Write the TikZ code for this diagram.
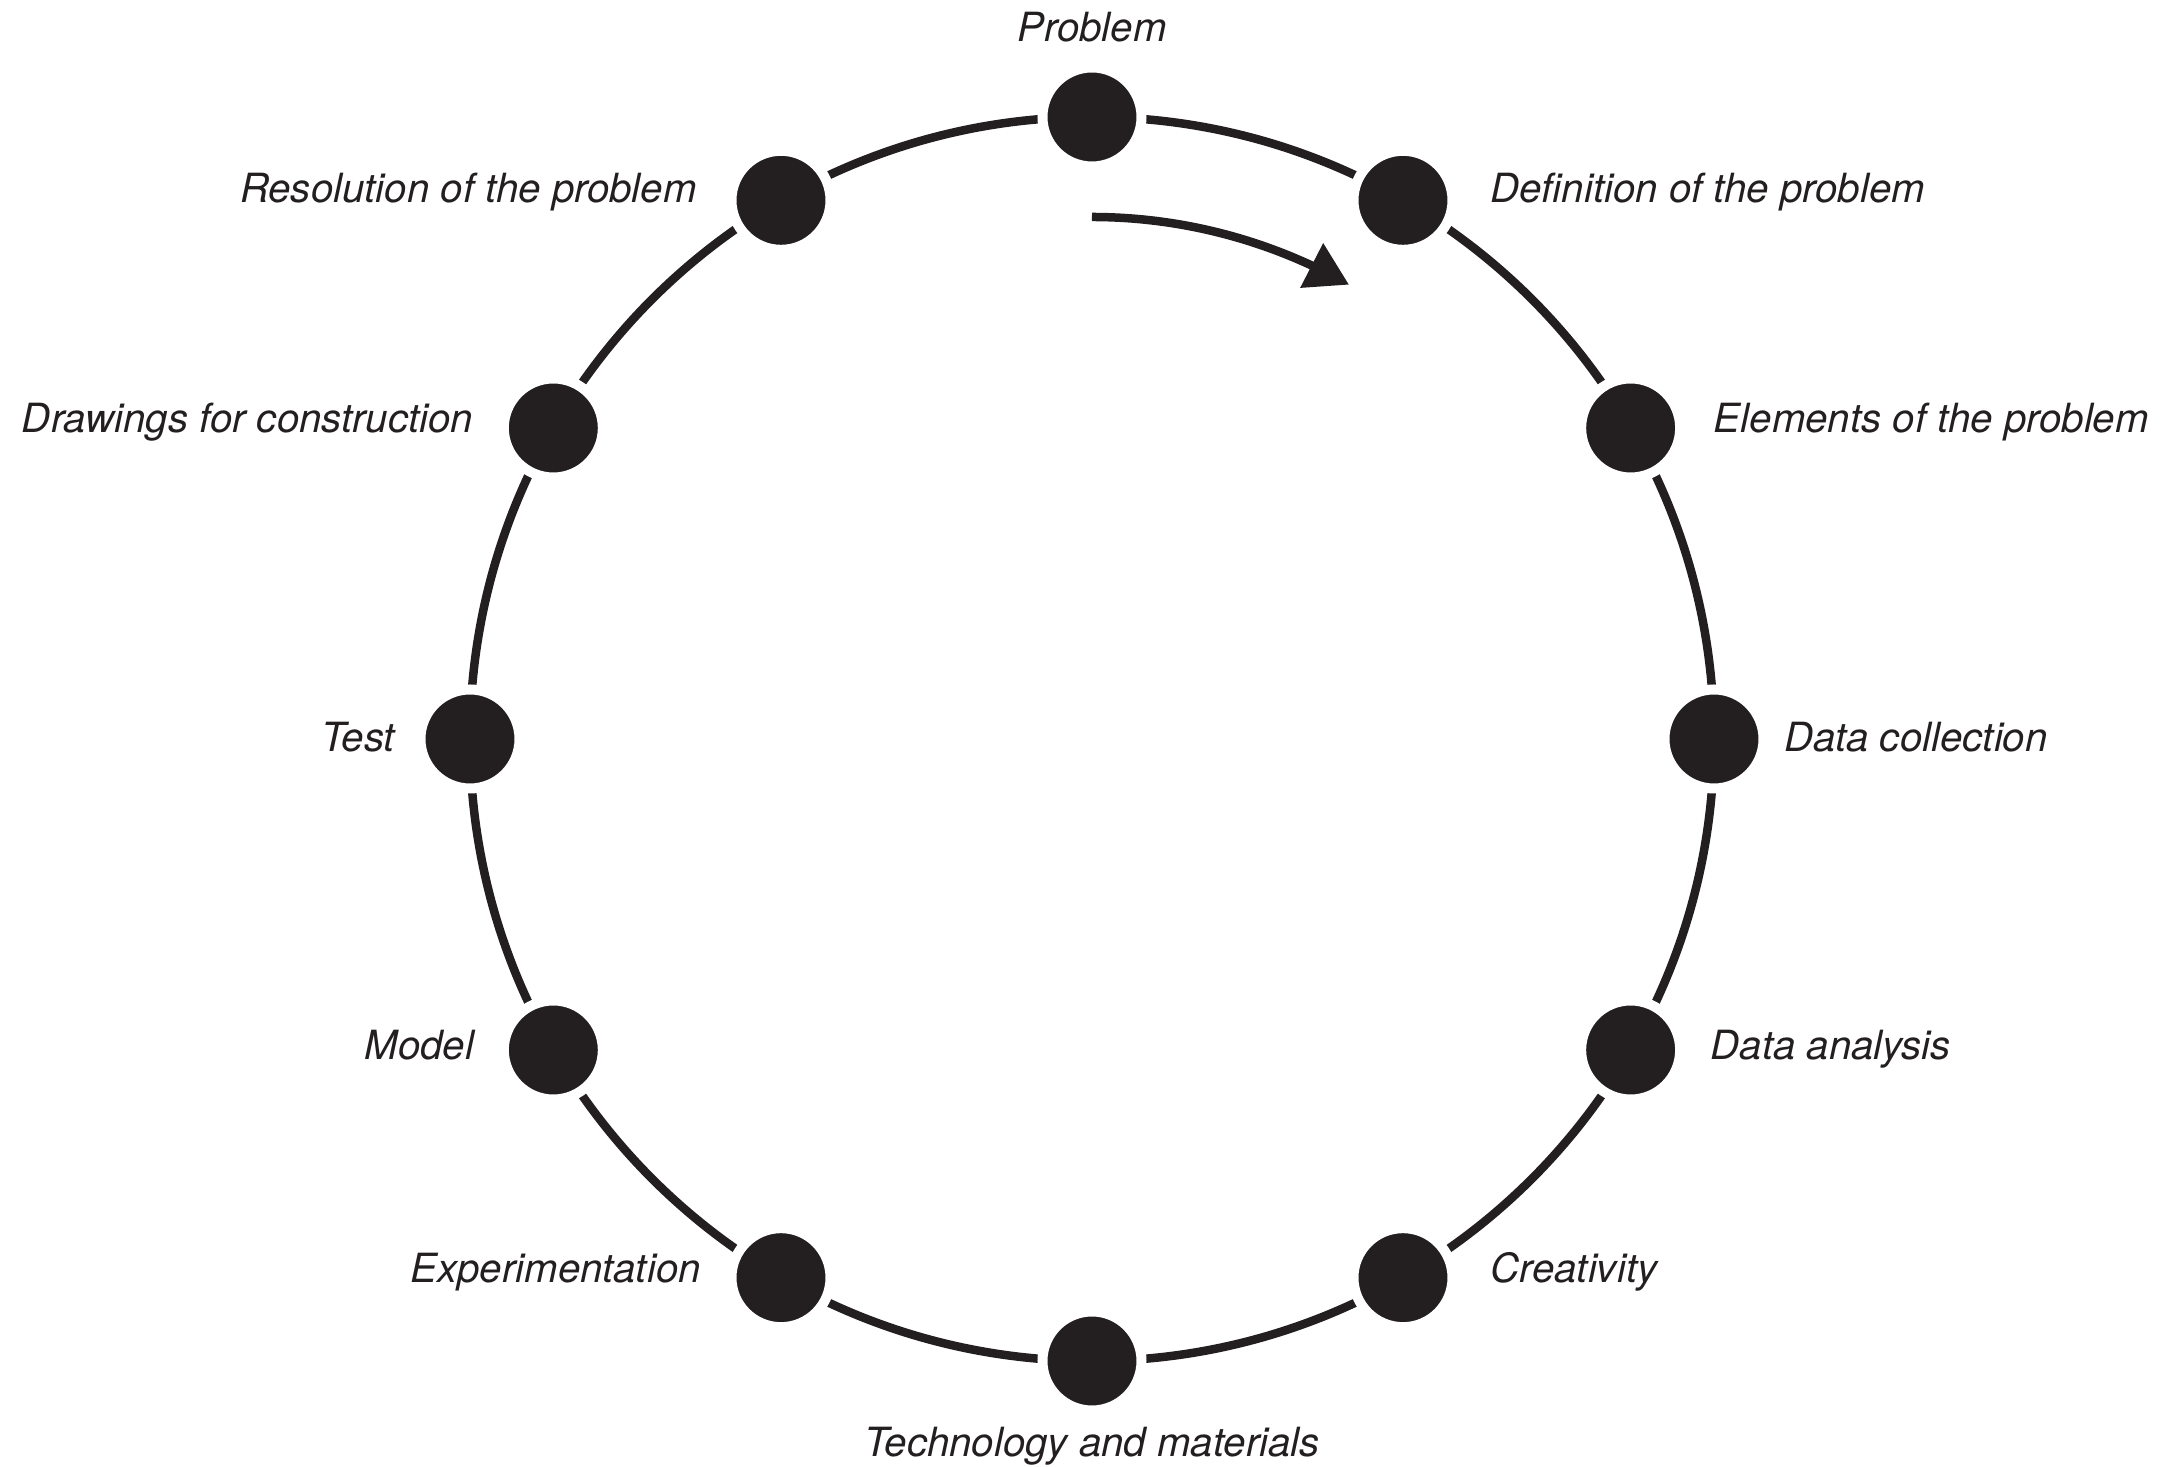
\documentclass[tikz,border=0pt]{standalone}
\usepackage{fontspec}
\setmainfont{TeX Gyre Heros}
\usetikzlibrary{positioning,arrows.meta,bending}
\definecolor{ink}{HTML}{231F20}

\begin{document}
\begin{tikzpicture}[
    stage/.style={circle, fill=ink, draw=white, line width=0.10cm,
        minimum size=0.99cm, inner sep=0pt, outer sep=0pt},
    caption/.style={text=ink, inner sep=0pt,
        font=\fontsize{11.45}{13}\selectfont\itshape},
    ring/.style={draw=ink, line width=0.085cm},
    turn/.style={draw=ink, line width=0.085cm,
        -{Triangle[length=0.42cm, width=0.48cm, flex]}}
]
\useasboundingbox (-10.92,-7.28) rectangle (10.75,7.39);

\draw[ring] (0,0) circle[radius=6.22];

\node[stage] (problem)    at (90:6.22)  {};
\node[stage] (definition) at (60:6.22)  {};
\node[stage] (elements)   at (30:6.22)  {};
\node[stage] (collection) at (0:6.22)   {};
\node[stage] (analysis)   at (-30:6.22) {};
\node[stage] (creativity) at (-60:6.22) {};
\node[stage] (technology) at (-90:6.22) {};
\node[stage] (experiment) at (240:6.22) {};
\node[stage] (model)      at (210:6.22) {};
\node[stage] (testing)    at (180:6.22) {};
\node[stage] (drawings)   at (150:6.22) {};
\node[stage] (resolution) at (120:6.22) {};

% direction of the cycle
\coordinate (turnstart) at (90:5.22);
\draw[turn] (turnstart) arc[start angle=90, end angle=60.5, radius=5.22];

\node[caption, above=0.25cm of problem] (problemtxt) {Problem};
\node[caption, base right=0.37cm of definition, yshift=-0.02cm] (definitiontxt) {Definition of the problem};
\node[caption, base right=0.33cm of elements, yshift=-0.05cm] (elementstxt) {Elements of the problem};
\node[caption, base right=0.2cm of collection, yshift=-0.13cm] (collectiontxt) {Data collection};
\node[caption, base right=0.3cm of analysis, yshift=-0.10cm] (analysistxt) {Data analysis};
\node[caption, base right=0.37cm of creativity, yshift=-0.045cm] (creativitytxt) {Creativity};
\node[caption, below=0.16cm of technology] (technologytxt) {Technology and materials};
\node[caption, base left=0.3cm of experiment, yshift=-0.045cm] (experimenttxt) {Experimentation};
\node[caption, base left=0.29cm of model, yshift=-0.10cm] (modeltxt) {Model};
\node[caption, base left=0.25cm of testing, yshift=-0.13cm] (testingtxt) {Test};
\node[caption, base left=0.3cm of drawings, yshift=-0.05cm] (drawingstxt) {Drawings for construction};
\node[caption, base left=0.34cm of resolution, yshift=-0.02cm] (resolutiontxt) {Resolution of the problem};

\end{tikzpicture}
\end{document}
